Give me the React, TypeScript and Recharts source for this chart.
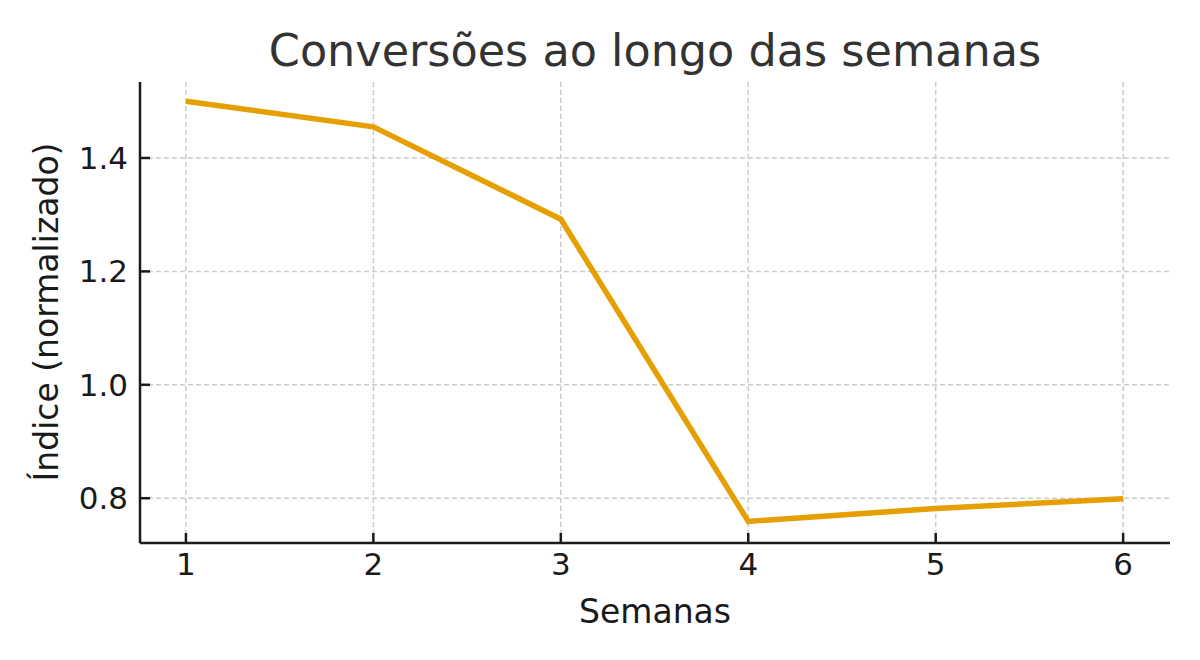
import React from "react";
import { LineChart, Line, XAxis, YAxis, CartesianGrid } from "recharts";

const weeks = [1, 2, 3, 4, 5, 6];
const conversionIndex = [1.5, 1.455, 1.292, 0.759, 0.782, 0.799];
const yTicks = [0.8, 1.0, 1.2, 1.4];

const data = weeks.map((w, i) => ({ week: w, value: conversionIndex[i] }));

const FONT = "'DejaVu Sans', sans-serif";
const AXIS = "#1a1a1a";

const YLabel = () => (
  <text
    x={58}
    y={312}
    transform="rotate(-90 58 312)"
    textAnchor="middle"
    fontSize={33}
    fontFamily={FONT}
    fill={AXIS}
  >
    Índice (normalizado)
  </text>
);

const App: React.FC = () => {
  return (
    <div
      style={{
        position: "absolute",
        left: 0,
        top: 0,
        width: 1200,
        height: 660,
        background: "#fff",
        fontFamily: FONT,
      }}
    >
      <div
        style={{
          position: "absolute",
          top: 29,
          left: 140,
          width: 1030,
          textAlign: "center",
          fontSize: 44.5,
          lineHeight: "44px",
          color: "#333333",
        }}
      >
        Conversões ao longo das semanas
      </div>
      <LineChart
        width={1200}
        height={660}
        data={data}
        margin={{ top: 82, right: 30, left: 0, bottom: 0 }}
      >
        {/* syncWithTicks: grid only at ticks, no lines on plot edges */}
        <CartesianGrid
          stroke="#cccccc"
          strokeWidth={1.5}
          strokeDasharray="5 3"
          syncWithTicks
        />
        <XAxis
          dataKey="week"
          type="number"
          domain={[0.755, 6.25]}
          ticks={weeks}
          allowDataOverflow
          height={117}
          stroke={AXIS}
          strokeWidth={2.5}
          tickSize={-10}
          tickMargin={20}
          tick={{ fontSize: 31, fill: AXIS, fontFamily: FONT }}
          label={{
            value: "Semanas",
            position: "insideBottom",
            offset: 37,
            fontSize: 33,
            fill: AXIS,
            fontFamily: FONT,
          }}
        />
        <YAxis
          type="number"
          domain={[0.721, 1.534]}
          ticks={yTicks}
          allowDataOverflow
          width={140}
          stroke={AXIS}
          strokeWidth={2.5}
          tickSize={-10}
          tickMargin={22}
          tickFormatter={(v: number) => v.toFixed(1)}
          tick={{ fontSize: 31, fill: AXIS, fontFamily: FONT }}
          label={{ content: () => <YLabel /> }}
        />
        <Line
          type="linear"
          dataKey="value"
          stroke="#E69F00"
          strokeWidth={5.5}
          dot={false}
          activeDot={false}
          isAnimationActive={false}
        />
      </LineChart>
    </div>
  );
};

export default App;
